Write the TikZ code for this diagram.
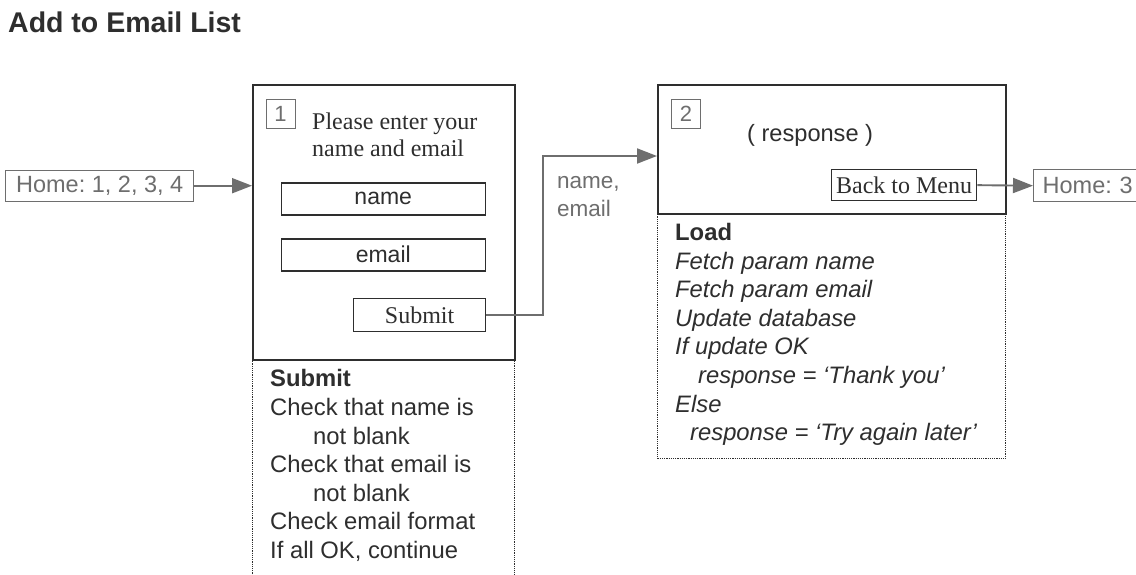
\documentclass[tikz,border=0pt]{standalone}
\usepackage{fontspec}
\setmainfont{Liberation Sans}
\newfontfamily\formserif{Liberation Serif}
\usetikzlibrary{arrows.meta,calc}
\frenchspacing

\definecolor{ink}{HTML}{2E2E2E}
\definecolor{soft}{HTML}{6E6E6E}

\tikzset{
  screen/.style={draw=ink, line width=1.6pt, inner sep=0pt, anchor=north west},
  notes/.style={draw=ink, line width=1.3pt, dash pattern=on 1.2pt off 1pt, inner sep=0pt, anchor=north west},
  field/.style={draw=ink, line width=1.5pt, inner sep=0pt, anchor=north west,
    font=\fontsize{23}{26}\selectfont, text=ink},
  button/.style={draw=ink, line width=1.3pt, inner sep=0pt, anchor=north west,
    font=\formserif\fontsize{24}{26}\selectfont, text=ink},
  tag/.style={draw=soft, line width=1.2pt, inner sep=0pt, anchor=north west,
    minimum width=29pt, minimum height=29pt, font=\fontsize{22}{24}\selectfont, text=soft},
  homebox/.style={draw=soft, line width=1.4pt, inner sep=0pt, anchor=north west,
    font=\fontsize{23.5}{26}\selectfont, text=soft},
  conn/.style={draw=soft, line width=1.9pt, -{Triangle[length=20pt,width=15pt]}},
  script/.style={anchor=north west, inner sep=0pt, align=left, text=ink,
    font=\fontsize{23.8}{28.6}\selectfont},
}

\begin{document}
\begin{tikzpicture}[x=1pt,y=-1pt]
\useasboundingbox[fill=white] (0,0) rectangle (1136,574);

% heading
\node[anchor=base west, inner sep=0pt, font=\bfseries\fontsize{28.5}{32}\selectfont, text=ink]
  (title) at (8,32) {Add to Email List};

% entry point
\node[homebox, minimum width=188pt, minimum height=31pt] (h1) at (5,169.5) {Home: 1, 2, 3, 4};

% screen 1: the entry form
\node[screen, minimum width=262pt, minimum height=275pt] (s1) at (252,84) {};
\node[tag] (t1) at (265.5,98.5) {1};
\node[anchor=north west, inner sep=0pt, align=left, text=ink,
      font=\formserif\fontsize{24}{27}\selectfont] (prompt) at (312,113) {Please enter your\\name and email};
\node[field, minimum width=204pt, minimum height=32pt] (fname) at (280.5,182) {name};
\node[field, minimum width=204pt, minimum height=32pt] (femail) at (280.5,238) {email};
\node[button, minimum width=132pt, minimum height=33pt] (sub) at (353,298) {Submit};

% processing notes below screen 1
\node[notes, minimum width=262pt, minimum height=240pt] (n1) at (252,359) {};
\node[script] (c1) at (270,369.5) {\textbf{Submit}\\
Check that name is\\
\hspace*{43pt}not blank\\
Check that email is\\
\hspace*{43pt}not blank\\
Check email format\\
If all OK, continue};

% screen 2: the response page
\node[screen, minimum width=348pt, minimum height=129pt] (s2) at (657,84) {};
\node[tag] (t2) at (671,99) {2};
\node[anchor=north west, inner sep=0pt, font=\fontsize{23.6}{26}\selectfont, text=ink]
  (resp) at (747,124) {( response )};
\node[button, minimum width=145pt, minimum height=31pt] (back) at (831,169) {Back to Menu};

% processing notes below screen 2
\node[notes, minimum width=348pt, minimum height=245pt] (n2) at (657,213) {};
\node[script] (c2) at (675,223) {\textbf{Load}\\
\itshape Fetch param name\\
\itshape Fetch param email\\
\itshape Update database\\
\itshape If update OK\\
\hspace*{23pt}\itshape response = `Thank you'\\
\itshape Else\\
\hspace*{15pt}\itshape response = `Try again later'};

% exit point
\node[homebox, minimum width=140pt, minimum height=32pt, text width=130pt, align=left,
      inner xsep=9pt] (h3) at (1033,169) {Home: 3};

% connectors
\draw[conn] (h1.east) -- (h1.east -| s1.west);
\draw[conn] (sub.east) -- ++(57,0) |- ($(s2.north west)+(0,72)$);
\draw[conn] (back.east) -- (h3.west);

% data passed between screens
\node[anchor=north west, inner sep=0pt, align=left, text=soft,
      font=\fontsize{22.5}{28}\selectfont] (data) at (557,176) {name,\\email};
\end{tikzpicture}
\end{document}
